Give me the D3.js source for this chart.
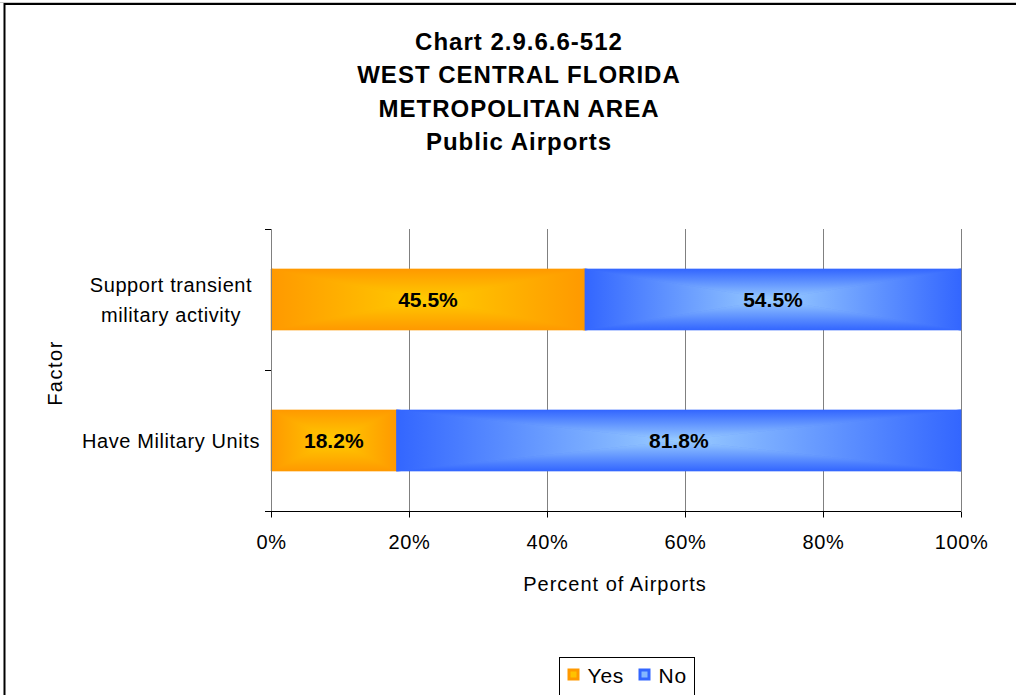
<!DOCTYPE html>
<html>
<head>
<meta charset="utf-8">
<script src="https://cdn.jsdelivr.net/npm/d3@7"></script>
<style>
  body { margin: 0; background: #fff; }
  svg { display: block; font-family: "Liberation Sans", Arial, sans-serif; }
</style>
</head>
<body>
<script>
// data
var titleLines = ["Chart 2.9.6.6-512", "WEST CENTRAL FLORIDA", "METROPOLITAN AREA", "Public Airports"];
var factors = ["Support transient military activity", "Have Military Units"];
var factorLines = [["Support transient", "military activity"], ["Have Military Units"]];
var seriesNames = ["Yes", "No"];
var yesValues = [45.5, 18.2];
var noValues = [54.5, 81.8];
var xTicks = [0, 20, 40, 60, 80, 100];

var W = 1016, H = 695;
var plot = {left: 271, right: 961, top: 229, bottom: 511};

var svg = d3.select("body").append("svg")
    .attr("width", W)
    .attr("height", H);

// colours: edge / centre of the "from centre" gradient
var palette = {
    Yes: {edge: "#FF9900", mid: "#FFCC00"},
    No: {edge: "#3366FF", mid: "#99CCFF"}
};

var defs = svg.append("defs");
// four linear gradients per series, one for each triangle of the bar
var dirs = {
    l: {x1: 0, y1: 0, x2: 1, y2: 0, rev: false},
    r: {x1: 0, y1: 0, x2: 1, y2: 0, rev: true},
    t: {x1: 0, y1: 0, x2: 0, y2: 1, rev: false},
    b: {x1: 0, y1: 0, x2: 0, y2: 1, rev: true}
};
seriesNames.forEach(function(s){
    Object.keys(dirs).forEach(function(k){
        var d = dirs[k];
        var g = defs.append("linearGradient")
            .attr("id", "g" + s + k)
            .attr("x1", d.x1).attr("y1", d.y1)
            .attr("x2", d.x2).attr("y2", d.y2);
        g.append("stop").attr("offset", 0)
            .attr("stop-color", d.rev ? palette[s].mid : palette[s].edge);
        g.append("stop").attr("offset", 1)
            .attr("stop-color", d.rev ? palette[s].edge : palette[s].mid);
    });
});

// outer chart frame (right and bottom run past the picture)
svg.append("rect")
    .attr("x", 4.5).attr("y", 4)
    .attr("width", W + 20).attr("height", H + 20)
    .style("fill", "none")
    .style("stroke", "#000")
    .style("stroke-width", 2);
svg.append("line")
    .attr("x1", 0).attr("x2", W).attr("y1", 2.5).attr("y2", 2.5)
    .style("stroke", "#c8c8c8").style("stroke-width", 1);

// title
svg.append("g").selectAll("text")
    .data(titleLines)
    .enter()
    .append("text")
    .attr("x", 519)
    .attr("y", function(d, i){ return 50 + i * 33.3; })
    .attr("text-anchor", "middle")
    .style("font-size", "24px")
    .style("font-weight", "bold")
    .style("letter-spacing", "1px")
    .text(function(d){ return d; });

var x = d3.scaleLinear().domain([0, 100]).range([plot.left, plot.right]);
var y = d3.scaleBand().domain(factors).range([plot.top, plot.bottom])
    .paddingInner(0.567).paddingOuter(0.2835);

// vertical gridlines
svg.append("g").selectAll("line")
    .data(xTicks.slice(1))
    .enter()
    .append("line")
    .attr("x1", function(d){ return Math.round(x(d)) + 0.5; })
    .attr("x2", function(d){ return Math.round(x(d)) + 0.5; })
    .attr("y1", plot.top)
    .attr("y2", plot.bottom)
    .style("stroke", "#808080")
    .style("stroke-width", 1);

// stacked segments
var segs = [];
factors.forEach(function(f, i){
    segs.push({factor: f, series: "Yes", x0: 0, x1: yesValues[i], v: yesValues[i]});
    segs.push({factor: f, series: "No", x0: yesValues[i], x1: yesValues[i] + noValues[i], v: noValues[i]});
});

var segG = svg.append("g").selectAll("g")
    .data(segs)
    .enter()
    .append("g");

segG.each(function(d){
    var g = d3.select(this);
    var x0 = x(d.x0), x1 = x(d.x1);
    var y0 = y(d.factor), y1 = y(d.factor) + y.bandwidth();
    var cx = (x0 + x1) / 2, cy = (y0 + y1) / 2;
    g.append("rect")
        .attr("x", x0).attr("y", y0)
        .attr("width", x1 - x0).attr("height", y1 - y0)
        .style("fill", palette[d.series].edge);
    var tris = {
        l: [[x0, y0], [cx, cy], [x0, y1]],
        r: [[x1, y0], [cx, cy], [x1, y1]],
        t: [[x0, y0], [cx, cy], [x1, y0]],
        b: [[x0, y1], [cx, cy], [x1, y1]]
    };
    Object.keys(tris).forEach(function(k){
        g.append("path")
            .attr("d", "M" + tris[k].join("L") + "Z")
            .style("fill", "url(#g" + d.series + k + ")")
            .style("stroke", "url(#g" + d.series + k + ")")
            .style("stroke-width", 0.6);
    });
    g.append("text")
        .attr("x", cx)
        .attr("y", cy + 7)
        .attr("text-anchor", "middle")
        .style("font-size", "21px")
        .style("font-weight", "bold")
        .text(d.v.toFixed(1) + "%");
});

// left axis (grey) with ticks at the band edges
var yAxisG = svg.append("g");
yAxisG.append("line")
    .attr("x1", plot.left + 0.5).attr("x2", plot.left + 0.5)
    .attr("y1", plot.top).attr("y2", plot.bottom)
    .style("stroke", "#808080");
var yEdges = [plot.top, y(factors[1]) - y.step() * y.paddingInner() / 2, plot.bottom];
yAxisG.selectAll(".tk")
    .data(yEdges)
    .enter()
    .append("line")
    .attr("x1", plot.left - 6).attr("x2", plot.left)
    .attr("y1", function(d){ return Math.round(d) + 0.5; })
    .attr("y2", function(d){ return Math.round(d) + 0.5; })
    .style("stroke", "#000");

// category labels
factorLines.forEach(function(lines, i){
    var c = y(factors[i]) + y.bandwidth() / 2;
    lines.forEach(function(t, j){
        svg.append("text")
            .attr("x", 171)
            .attr("y", c + 7 + (j - (lines.length - 1) / 2) * 30)
            .attr("text-anchor", "middle")
            .style("font-size", "20px")
            .style("letter-spacing", "0.6px")
            .text(t);
    });
});

// bottom axis
var xAxis = d3.axisBottom(x)
    .tickValues(xTicks)
    .tickSize(6)
    .tickPadding(17)
    .tickFormat(function(d){ return d + "%"; });
var gx = svg.append("g")
    .attr("transform", "translate(0," + (plot.bottom + 0.5) + ")")
    .call(xAxis);
gx.select(".domain").attr("d", "M" + (plot.left - 6) + ",0H" + plot.right);
gx.selectAll("line").style("stroke", "#000");
gx.selectAll("text")
    .style("font-family", "'Liberation Sans', Arial, sans-serif")
    .style("font-size", "20px")
    .style("letter-spacing", "0.6px")
    .style("fill", "#000");

// axis titles
svg.append("text")
    .attr("x", 615).attr("y", 591)
    .attr("text-anchor", "middle")
    .style("font-size", "20px")
    .style("letter-spacing", "1px")
    .text("Percent of Airports");
svg.append("text")
    .attr("transform", "translate(62,373) rotate(-90)")
    .attr("text-anchor", "middle")
    .style("font-size", "20px")
    .style("letter-spacing", "1.5px")
    .text("Factor");

// legend
var lg = svg.append("g").attr("transform", "translate(559.5,657.5)");
lg.append("rect")
    .attr("width", 135).attr("height", 60)
    .style("fill", "#fff")
    .style("stroke", "#000");
var legX = [8, 79];
seriesNames.forEach(function(s, i){
    var gg = lg.append("g").attr("transform", "translate(" + legX[i] + ",11)");
    gg.append("rect")
        .attr("width", 12).attr("height", 12)
        .style("fill", palette[s].edge);
    gg.append("rect")
        .attr("x", 3).attr("y", 3)
        .attr("width", 6).attr("height", 6)
        .style("fill", palette[s].mid)
        .style("opacity", 0.8);
    gg.append("text")
        .attr("x", 20).attr("y", 14)
        .style("font-size", "21px")
        .style("letter-spacing", "0.8px")
        .text(s);
});
</script>
</body>
</html>
